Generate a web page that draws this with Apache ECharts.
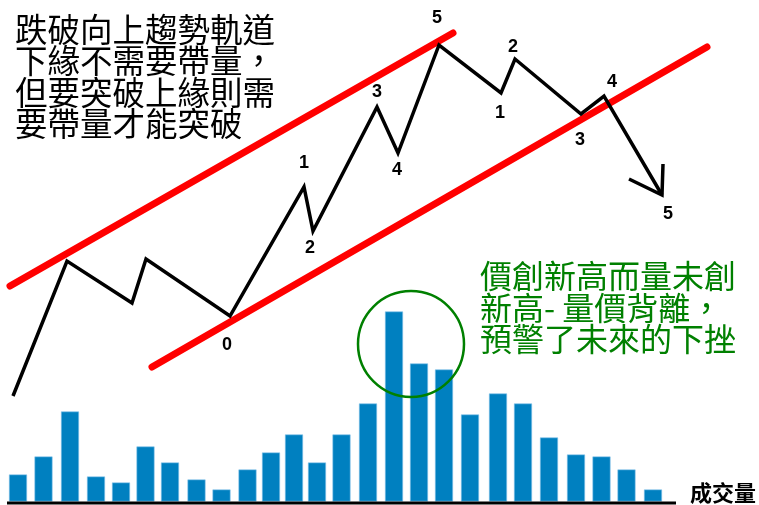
<!DOCTYPE html>
<html>
<head>
<meta charset="utf-8">
<script src="https://cdn.jsdelivr.net/npm/echarts@6/dist/echarts.min.js"></script>
<style>
html,body{margin:0;padding:0;background:#fff;}
#c{width:759px;height:505px;}
</style>
</head>
<body>
<div id="c"></div>
<script>
// ---- data ----
const waveTime  = [13, 67, 132, 146, 230, 304, 313, 377, 398, 439, 501, 515, 581, 604, 662];
const wavePrice = [109, 244, 202, 246, 189, 318, 274, 398, 352, 460, 412, 446, 391, 409, 310];
const waveLabels = ['', '', '', '', '0', '1', '2', '3', '4', '5', '1', '2', '3', '4', '5'];
const arrowTime  = [629, 662, 663];
const arrowPrice = [326, 310, 341];
const upperTime  = [10, 453];
const upperPrice = [219, 472];
const lowerTime  = [152, 707];
const lowerPrice = [138, 458];
const volumeTime = [18, 43.5, 70, 96, 121, 145.5, 170, 196.5, 221.5, 247.5, 271, 294, 317, 341.5, 368, 394, 419, 444, 470, 498, 523, 549, 576, 601.5, 626.5, 653];
const volumeVals = [27, 45, 90, 25, 19, 55, 39, 22, 12, 32, 49, 67, 39, 67, 98, 190, 138, 132, 87, 108, 98, 64, 47, 45, 32, 12];
const noteTopLeft = '跌破向上趨勢軌道\n下緣不需要帶量，\n但要突破上緣則需\n要帶量才能突破';
const noteGreen = '價創新高而量未創\n新高- 量價背離，\n預警了未來的下挫';
const volumeName = '成交量';

// ---- layout (label offsets relative to each point) ----
const labelOffsets = [null, null, null, null, [-3, 29], [0, -24], [-3, 17], [0, -15], [-1, 17], [-2, -27], [-1, 20], [-2, -12], [-1, 26], [8, -14], [6, 19]];

const zip = (a, b) => a.map((v, i) => [v, b[i]]);

const waveData = waveTime.map((t, i) => {
  const item = { value: [t, wavePrice[i]] };
  if (waveLabels[i]) {
    item.label = {
      show: true, formatter: waveLabels[i], position: 'inside',
      offset: labelOffsets[i],
      fontFamily: 'Liberation Sans', fontWeight: 'bold', fontSize: 18, color: '#000'
    };
  }
  return item;
});

const chart = echarts.init(document.getElementById('c'), null, { renderer: 'canvas' });
chart.setOption({
  animation: false,
  backgroundColor: '#ffffff',
  grid: [
    { left: 0, right: 0, top: 0, bottom: 0 },
    { left: 0, right: 0, top: 301.5, bottom: 3.5 }
  ],
  xAxis: [
    { type: 'value', gridIndex: 0, min: 0, max: 759, show: false },
    { type: 'value', gridIndex: 1, min: 0, max: 759, show: false }
  ],
  yAxis: [
    { type: 'value', gridIndex: 0, min: 0, max: 505, show: false },
    { type: 'value', gridIndex: 1, min: 0, max: 200, show: false }
  ],
  series: [
    {
      type: 'bar', xAxisIndex: 1, yAxisIndex: 1, data: zip(volumeTime, volumeVals), barWidth: 18,
      itemStyle: { color: '#0080c0', borderColor: '#7fc0e8', borderWidth: 0.6 }, z: 1
    },
    {
      type: 'line', data: [[7, 2], [676, 2]], symbol: 'none',
      lineStyle: { color: '#000', width: 3 }, z: 2, silent: true
    },
    {
      type: 'line', data: zip(upperTime, upperPrice), symbol: 'none',
      lineStyle: { color: '#ff0000', width: 7, cap: 'round' }, z: 3
    },
    {
      type: 'line', data: zip(lowerTime, lowerPrice), symbol: 'none',
      lineStyle: { color: '#ff0000', width: 7, cap: 'round' }, z: 3
    },
    {
      type: 'line', data: waveData, symbol: 'circle', symbolSize: 0.1, showSymbol: true,
      itemStyle: { color: '#000' },
      lineStyle: { color: '#000', width: 3.5, join: 'miter' }, z: 4
    },
    {
      type: 'line', data: zip(arrowTime, arrowPrice), symbol: 'none',
      lineStyle: { color: '#000', width: 3.5, join: 'miter' }, z: 4
    }
  ],
  graphic: [
    {
      type: 'text', left: 15, top: 13,
      style: { text: noteTopLeft, font: '32.5px "Noto Sans CJK TC"', lineHeight: 31.5, fill: '#000' }
    },
    {
      type: 'text', left: 480, top: 260,
      style: { text: noteGreen, font: '32px "Noto Sans CJK TC"', lineHeight: 31.5, fill: '#008000' }
    },
    {
      type: 'text', left: 690, top: 482,
      style: { text: volumeName, font: 'bold 22px "Noto Sans CJK TC"', fill: '#000' }
    },
    {
      type: 'circle', shape: { cx: 411, cy: 344, r: 53 },
      style: { fill: 'none', stroke: '#008000', lineWidth: 2.5 }, z: 10
    }
  ]
});
</script>
</body>
</html>
